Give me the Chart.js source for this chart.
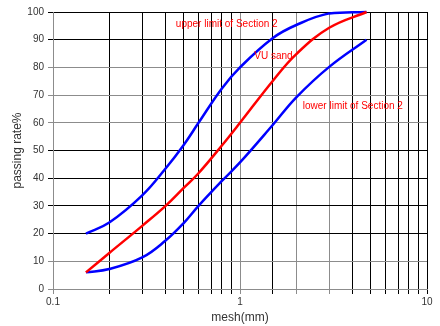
<!DOCTYPE html>
<html>
<head>
<meta charset="utf-8">
<script src="https://cdn.jsdelivr.net/npm/chart.js@4.4.1/dist/chart.umd.min.js"></script>
<style>
  html, body { margin: 0; padding: 0; background: #ffffff; }
  #wrap { width: 440px; height: 326px; }
</style>
</head>
<body>
<div id="wrap"><canvas id="c" width="440" height="326"></canvas></div>
<script>
// Sieve openings (mm) and cumulative passing (%)
const meshSizes  = [0.15, 0.2, 0.3, 0.4, 0.5, 0.6, 0.8, 1.0, 1.5, 2.0, 3.0, 4.75];
const upperLimit = [20, 24, 33.8, 43.5, 52, 60, 72.4, 80, 90.6, 95.3, 99.5, 100];
const vuSand     = [6, 13, 22.8, 30, 36.5, 41.8, 51.8, 60, 75.2, 84.8, 94.3, 100];
const lowerLimit = [6, 7.2, 11.4, 17.5, 23.8, 30, 39, 45.7, 59.3, 69.2, 80.2, 90];

const yTicks = [0, 10, 20, 30, 40, 50, 60, 70, 80, 90, 100];
const xLabelled = [0.1, 1, 10];

// In-plot captions, anchored in data units (left edge, vertical middle)
const notes = [
  { text: 'upper limit of Section 2', x: 0.454, y: 95.7 },
  { text: 'VU sand', x: 1.193, y: 84.1 },
  { text: 'lower limit of Section 2', x: 2.167, y: 65.8 }
];

const FONT = '"Liberation Sans", Arial, sans-serif';
const pts = (ys) => meshSizes.map((x, i) => ({ x: x, y: ys[i] }));

const greyX = [0.1, 1, 2, 3];
const greyY = [0, 10, 60, 70, 80];
const near = (a, b) => Math.abs(a - b) < 1e-6 * Math.max(1, Math.abs(b));

const captionPlugin = {
  id: 'captions',
  afterDatasetsDraw(chart) {
    const { ctx, scales } = chart;
    ctx.save();
    ctx.font = '10px ' + FONT;
    ctx.fillStyle = '#ff0000';
    ctx.textAlign = 'left';
    ctx.textBaseline = 'middle';
    notes.forEach(n => {
      ctx.fillText(n.text, scales.x.getPixelForValue(n.x), scales.y.getPixelForValue(n.y));
    });
    ctx.restore();
  }
};

new Chart(document.getElementById('c'), {
  type: 'line',
  data: {
    datasets: [
      { label: 'VU sand', data: pts(vuSand), borderColor: '#ff0000' },
      { label: 'upper limit of Section 2', data: pts(upperLimit), borderColor: '#0000ff' },
      { label: 'lower limit of Section 2', data: pts(lowerLimit), borderColor: '#0000ff' }
    ]
  },
  options: {
    responsive: false,
    animation: false,
    layout: { padding: { top: 12, right: 13, left: 0, bottom: 0 } },
    datasets: {
      line: {
        borderWidth: 2.5,
        pointRadius: 0,
        fill: false,
        tension: 0.4,
        clip: 4
      }
    },
    plugins: {
      legend: { display: false },
      tooltip: { enabled: false }
    },
    scales: {
      x: {
        type: 'logarithmic',
        min: 0.1,
        max: 10,
        afterFit(s) { s.height = 37; },
        border: { color: '#8c8c8c', width: 1 },
        grid: {
          color: (c) => greyX.some(v => near(c.tick.value, v)) ? '#8c8c8c' : '#000000',
          tickLength: 5
        },
        ticks: {
          autoSkip: false,
          maxRotation: 0,
          padding: 2,
          color: '#333333',
          font: { family: FONT, size: 10 },
          callback: (v) => xLabelled.some(t => near(v, t)) ? String(v) : ''
        },
        title: {
          display: true,
          text: 'mesh(mm)',
          color: '#333333',
          font: { family: FONT, size: 12 },
          padding: { top: 0, bottom: 1 }
        }
      },
      y: {
        min: 0,
        max: 100,
        afterFit(s) { s.width = 53; },
        afterBuildTicks(s) { s.ticks = yTicks.map(v => ({ value: v })); },
        border: { color: '#8c8c8c', width: 1 },
        grid: {
          color: (c) => greyY.includes(c.tick.value) ? '#8c8c8c' : '#000000',
          tickLength: 5
        },
        ticks: {
          padding: 4,
          color: '#333333',
          font: { family: FONT, size: 10 }
        },
        title: {
          display: true,
          text: 'passing rate%',
          color: '#333333',
          font: { family: FONT, size: 12 },
          padding: { top: 10, bottom: 0 }
        }
      }
    }
  },
  plugins: [captionPlugin]
});
</script>
</body>
</html>
